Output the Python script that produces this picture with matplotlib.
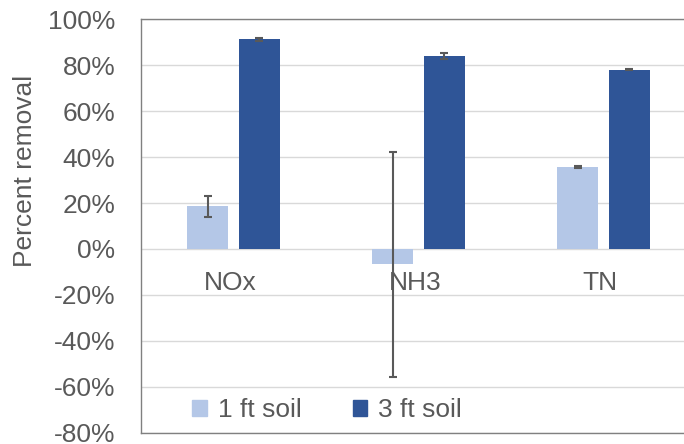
import matplotlib
matplotlib.use("Agg")
import matplotlib.pyplot as plt
from matplotlib.patches import Patch
import numpy as np

plt.rcParams['font.family'] = ['Liberation Sans', 'DejaVu Sans']

categories = ['NOx', 'NH3', 'TN']
series_names = ['1 ft soil', '3 ft soil']
one_ft = [18.6, -6.7, 35.6]
one_ft_err = [4.5, 48.9, 0.5]
three_ft = [91.4, 84.2, 78.2]
three_ft_err = [0.6, 1.4, 0.4]
y_ticks = [-80, -60, -40, -20, 0, 20, 40, 60, 80, 100]

light = '#b4c7e7'
dark = '#2f5597'
txt = '#595959'

fig = plt.figure(figsize=(6.84, 4.44), dpi=100)
ax = fig.add_axes([141 / 684, 11.5 / 444, 555 / 684, 413 / 444])

x = np.arange(len(categories))
w = 0.222
off = 0.14
ekw = dict(ecolor=txt, elinewidth=1.5, capsize=3.2, capthick=1.5)
ax.bar(x - off, one_ft, w, color=light, yerr=one_ft_err, error_kw=ekw, zorder=3)
ax.bar(x + off, three_ft, w, color=dark, yerr=three_ft_err, error_kw=ekw, zorder=3)

ax.set_xlim(-0.5, 2.5)
ax.set_ylim(-80, 100)
ax.set_yticks(y_ticks)
ax.set_yticklabels([f'{t}%' for t in y_ticks])
ax.set_xticks([])
ax.tick_params(axis='y', length=0, pad=18.5, labelsize=19, labelcolor=txt)
ax.grid(axis='y', color='#d9d9d9', lw=1, zorder=0)
for s in ax.spines.values():
    s.set_color('#808080')
    s.set_linewidth(1)

for i, c in enumerate(categories):
    ax.text(x[i] - 0.02, -15, c, ha='center', va='center', fontsize=19, color=txt)

fig.text(25 / 684, 1 - 171 / 444, 'Percent removal', rotation=90,
         ha='center', va='center', fontsize=19, color=txt)

handles = [Patch(color=light), Patch(color=dark)]
fig.legend(handles, series_names, loc='center left', ncol=2, frameon=False,
           bbox_to_anchor=(192 / 684, 1 - 410 / 444), borderaxespad=0, borderpad=0,
           handlelength=0.55, handleheight=0.55, handletextpad=0.42,
           columnspacing=1.95, fontsize=19, labelcolor=txt)

fig.savefig('out.png', dpi=100)
